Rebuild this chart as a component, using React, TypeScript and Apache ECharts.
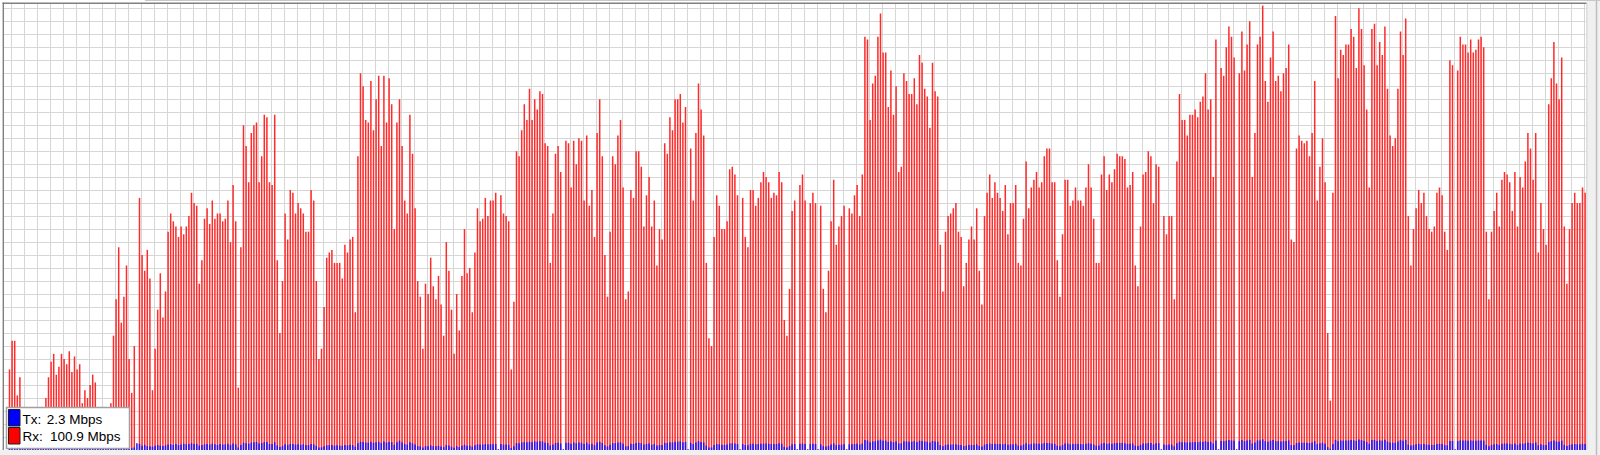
import React, { useEffect, useRef } from "react";
import * as echarts from "echarts";

// Rx traffic per sample (Mbps)
const rxMbps: number[] = [
  31, 42, 42, 21, 28, 9, 6, 12, 10, 4,
  8, 13, 7, 11, 20, 28, 34, 37, 29, 32,
  37, 35, 33, 38, 30, 36, 31, 33, 18, 23,
  20, 25, 29, 26, 14, 9, 12, 6, 15, 18,
  44, 58, 78, 49, 59, 71, 35, 22, 40, 0,
  97, 75, 69, 77, 66, 23, 39, 54, 68, 51,
  61, 84, 91, 88, 86, 82, 86, 83, 86, 90,
  99, 95, 94, 64, 73, 89, 93, 87, 96, 89,
  91, 91, 88, 89, 96, 80, 102, 88, 24, 78,
  125, 117, 103, 122, 125, 126, 103, 113, 129,
  128, 103, 102, 129, 73, 45, 65, 91, 81, 100,
  99, 91, 95, 93, 91, 84, 84, 100, 96, 65,
  35, 39, 55, 74, 76, 77, 72, 72, 72, 66,
  79, 76, 81, 82, 53, 113, 145, 140, 127, 126,
  142, 123, 135, 144, 117, 144, 126, 143, 133, 85,
  126, 135, 117, 96, 91, 129, 114, 93, 65, 59,
  39, 64, 60, 74, 63, 58, 67, 56, 44, 80,
  69, 54, 37, 60, 46, 67, 85, 68, 70, 53,
  76, 93, 88, 89, 97, 90, 96, 96, 99, 0,
  98, 91, 90, 88, 31, 57, 115, 113, 123, 133,
  127, 139,
  127, 135, 131, 138, 137, 118, 117, 72, 91, 114,
  117, 107, 0, 119, 118, 101, 119, 110, 120, 119,
  96, 121, 94, 100, 82, 122, 135, 113, 75, 59,
  84, 113, 110, 121, 127, 101, 58, 61, 100, 97,
  115, 115, 109, 86, 98, 105, 86, 96, 71, 85,
  81, 118, 114, 128, 123, 135, 135, 137, 126, 132,
  0, 116, 96, 122, 141, 131, 121, 72, 43, 40,
  82, 98, 94, 85, 85, 88, 108, 109, 106, 98,
  0, 97, 82, 78, 100, 100, 94, 97, 103, 107,
  105, 103, 97, 99, 98, 107, 103, 50, 44, 62,
  92, 96,
  0, 102, 106, 96, 0, 95, 99, 95, 0, 94,
  62, 53, 69, 88, 104, 79, 86, 90, 94, 0,
  93, 91, 98, 102, 90, 106, 159, 158, 127, 141,
  144, 159, 168, 153, 153, 132, 146, 129, 140, 107,
  109, 145, 142, 137, 137, 143, 133, 152, 149, 139,
  136, 124, 149, 138, 136, 79, 61, 84, 90, 91,
  93, 95, 84, 82, 63, 72, 81, 86, 81, 93,
  69, 56, 90, 99, 106, 97, 103, 99, 97, 92,
  102, 83, 95, 95, 102, 72, 71, 89, 111, 93,
  101, 104, 107, 101, 103, 113, 116, 116, 103, 103,
  73,
  59, 83, 104, 104, 94, 96, 101, 96, 96, 94,
  101, 110, 101, 89, 72, 72, 106, 113, 100, 106,
  103, 108, 114, 113, 113, 112, 101, 102, 107, 71,
  63, 86, 106, 107, 115, 113, 95, 110, 109, 0,
  90, 83, 90, 90, 58, 111, 137, 127, 127, 121,
  129, 129, 131, 128, 134, 136, 145, 131, 135, 105,
  158, 0, 147, 144, 155, 163, 159, 151, 0, 145,
  161, 146, 156, 165, 105, 122, 156, 159, 171, 142,
  134, 151, 161, 142, 144, 138, 145, 147, 156, 81,
  80, 116, 121, 119, 118, 119, 113, 122, 142, 96,
  109, 120,
  103, 45, 19, 99, 167, 143, 154, 152, 156, 156,
  162, 159, 147, 170, 162, 148, 131, 101, 162, 164,
  148, 157, 152, 163, 139, 121, 117, 120, 139, 161,
  152, 166, 90, 71, 85, 93, 100, 95, 99, 90,
  85, 84, 86, 99, 101, 98, 84, 77, 150, 148,
  0, 146, 159, 156, 156, 153, 158, 153, 154, 158,
  159, 155, 84, 58, 84, 92, 99, 86, 104, 107,
  106, 103, 92, 107, 86, 105, 101, 111, 122, 116,
  104, 122, 76, 95, 85, 79, 133, 143, 157, 141,
  135, 151, 86, 64, 85, 95, 99, 95, 95, 101,
  99,
];

// Tx traffic per sample (Mbps)
const txMbps: number[] = [
  0.8, 0.9, 0.9, 0.7, 0.8, 0.6, 0.5, 0.7, 0.6, 0.5,
  0.6, 0.7, 0.5, 0.6, 0.7, 0.8, 0.9, 1.0, 0.8, 0.9,
  1.0, 0.9, 0.9, 1.0, 0.8, 0.9, 0.8, 0.9, 0.6, 0.7,
  0.6, 0.7, 0.8, 0.7, 0.5, 0.5, 0.6, 0.5, 0.6, 0.7,
  1.0, 1.2, 1.4, 1.1, 1.3, 1.4, 0.9, 0.7, 1.0, 2.6,
  2.4, 1.6, 2.0, 1.5, 1.4, 1.3, 1.6, 1.9, 1.7, 1.5,
  1.8, 2.1, 2.2, 2.0, 2.3, 1.9, 2.1, 2.4, 2.2, 2.3,
  2.6, 2.3, 2.4, 1.7, 1.9, 2.2, 2.3, 2.1, 2.4, 2.2,
  2.0, 2.3, 2.1, 2.2, 2.4, 2.0, 2.5, 2.2, 1.0, 1.9,
  2.8, 2.6, 2.4, 2.9, 3.0, 3.1, 2.5, 2.7, 3.0,
  3.1, 2.3, 2.3, 3.0, 1.8, 1.2, 1.6, 2.2, 2.0, 2.3,
  2.3, 2.1, 2.2, 2.0, 2.2, 1.9, 1.9, 2.3, 2.2, 1.6,
  1.0, 1.1, 1.4, 1.8, 1.9, 1.9, 1.7, 1.8, 1.7, 1.6,
  1.9, 1.8, 2.0, 1.9, 1.3, 2.6, 3.2, 3.1, 2.9, 2.8,
  3.2, 2.8, 3.0, 3.2, 2.7, 3.3, 2.9, 3.1, 3.0, 2.0,
  3.0, 3.6, 2.9, 2.3, 2.1, 3.0, 2.6, 2.1, 1.5, 1.4,
  1.0, 1.5, 1.4, 1.8, 1.5, 1.4, 1.6, 1.3, 1.1, 1.9,
  1.7, 1.3, 0.9, 1.5, 1.1, 1.6, 2.0, 1.6, 1.7, 1.3,
  1.8, 2.2, 2.1, 2.1, 2.3, 2.1, 2.3, 2.2, 2.3, 0.3,
  2.3, 2.1, 2.1, 2.0, 0.8, 1.4, 2.7, 2.6, 2.9, 3.1,
  3.0, 3.2,
  3.0, 3.3, 3.2, 3.4, 3.3, 2.8, 2.7, 1.7, 2.1, 2.7,
  2.8, 2.5, 0.3, 2.8, 2.8, 2.4, 2.9, 2.6, 2.9, 2.8,
  2.3, 2.9, 2.2, 2.4, 1.9, 2.9, 3.2, 2.7, 1.8, 1.4,
  2.0, 2.7, 2.6, 2.9, 3.0, 2.4, 1.4, 1.5, 2.4, 2.3,
  2.7, 2.8, 2.6, 2.1, 2.3, 2.5, 2.0, 2.3, 1.7, 2.0,
  1.9, 2.8, 2.7, 3.0, 2.9, 3.2, 3.2, 3.3, 3.0, 3.1,
  0.3, 2.8, 2.3, 2.9, 3.4, 3.1, 2.9, 1.7, 1.0, 1.0,
  1.9, 2.3, 2.2, 2.0, 2.0, 2.1, 2.5, 2.6, 2.5, 2.3,
  0.3, 2.3, 1.9, 1.8, 2.4, 2.4, 2.2, 2.3, 2.4, 2.5,
  2.5, 2.4, 2.3, 2.3, 2.3, 2.6, 2.4, 1.2, 1.0, 1.5,
  2.2, 2.3,
  0.3, 2.4, 2.5, 2.3, 0.3, 2.3, 2.4, 2.3, 0.3, 2.2,
  1.5, 1.3, 1.6, 2.1, 2.5, 1.9, 2.0, 2.1, 2.2, 0.3,
  2.2, 2.2, 2.3, 2.4, 2.1, 2.5, 3.8, 3.7, 3.0, 3.3,
  3.4, 3.7, 4.0, 3.6, 3.6, 3.1, 3.4, 3.0, 3.3, 2.5,
  2.6, 3.4, 3.3, 3.2, 3.2, 3.4, 3.1, 3.6, 3.5, 3.3,
  3.2, 2.9, 3.5, 3.3, 3.2, 1.9, 1.4, 2.0, 2.1, 2.1,
  2.2, 2.2, 2.0, 1.9, 1.5, 1.7, 1.9, 2.0, 1.9, 2.2,
  1.6, 1.3, 2.1, 2.3, 2.5, 2.3, 2.4, 2.3, 2.3, 2.2,
  2.4, 2.0, 2.2, 2.2, 2.4, 1.7, 1.7, 2.1, 2.6, 2.2,
  2.4, 2.5, 2.5, 2.4, 2.4, 2.7, 2.7, 2.7, 2.4, 2.4,
  1.7,
  1.4, 2.0, 2.5, 2.5, 2.2, 2.3, 2.4, 2.3, 2.3, 2.2,
  2.4, 2.6, 2.4, 2.1, 1.7, 1.7, 2.5, 2.7, 2.4, 2.5,
  2.4, 2.6, 2.7, 2.7, 2.7, 2.6, 2.4, 2.4, 2.5, 1.7,
  1.5, 2.0, 2.5, 2.5, 2.7, 2.7, 2.2, 2.6, 2.6, 0.3,
  2.1, 2.0, 2.1, 2.1, 1.4, 2.6, 3.2, 3.0, 3.0, 2.9,
  3.0, 3.0, 3.1, 3.0, 3.2, 3.2, 3.4, 3.1, 3.2, 2.5,
  3.7, 0.3, 3.5, 3.4, 3.6, 3.8, 3.7, 3.6, 0.3, 3.4,
  3.8, 3.4, 3.7, 3.9, 2.5, 2.9, 3.7, 3.7, 4.1, 3.4,
  3.2, 3.6, 3.8, 3.4, 3.4, 3.3, 3.4, 3.5, 3.7, 1.9,
  1.9, 2.7, 2.9, 2.8, 2.8, 2.8, 2.7, 2.9, 3.4, 2.3,
  2.6, 2.8,
  2.4, 1.1, 0.5, 2.3, 3.9, 3.4, 3.7, 3.6, 3.7, 3.7,
  3.8, 3.7, 3.5, 4.0, 3.8, 3.5, 3.1, 2.4, 3.8, 3.9,
  3.5, 3.7, 3.6, 3.9, 3.3, 2.9, 2.8, 2.8, 3.3, 3.8,
  3.6, 3.9, 2.1, 1.7, 2.0, 2.2, 2.4, 2.2, 2.3, 2.1,
  2.0, 2.0, 2.0, 2.3, 2.4, 2.3, 2.0, 1.8, 3.5, 3.5,
  0.3, 3.4, 3.7, 3.7, 3.7, 3.6, 3.7, 3.6, 3.6, 3.7,
  3.7, 3.6, 2.0, 1.4, 2.0, 2.2, 2.3, 2.0, 2.4, 2.5,
  2.5, 2.4, 2.2, 2.5, 2.0, 2.5, 2.4, 2.6, 2.9, 2.7,
  2.5, 2.9, 1.8, 2.2, 2.0, 1.9, 3.1, 3.4, 3.7, 3.3,
  3.2, 3.6, 2.0, 1.5, 2.0, 2.2, 2.3, 2.2, 2.2, 2.4,
  2.3,
];

// Sample labels; two empty slots precede the first sample in the graph window
const leadSlots: string[] = ["", ""];
const sampleLabels: string[] = rxMbps.map((_, i) => `s${i + 1}`);

const legendRows = [
  { name: "Tx:", value: "2.3 Mbps", color: "#0000ff" },
  { name: "Rx:", value: "100.9 Mbps", color: "#ff0000" },
];

const Y_MAX = 172;
const Y_STEP = 5;

export default function App() {
  const ref = useRef<HTMLDivElement>(null);

  useEffect(() => {
    if (!ref.current) return;
    const chart = echarts.init(ref.current, undefined, { renderer: "svg" });
    const categories = [...leadSlots, ...sampleLabels];
    const pad = leadSlots.map(() => null);
    const font = '"Liberation Sans", Arial, sans-serif';
    const LZ = 100;

    const legendChildren: any[] = [
      { type: "rect", z: LZ, silent: true, shape: { x: 6.5, y: 407.5, width: 123, height: 41 }, style: { fill: "#ffffff", stroke: "#a0a0a0", lineWidth: 1.5 } },
    ];
    legendRows.forEach((row, i) => {
      const top = 409.5 + i * 18;
      const mid = 419.2 + i * 17.4;
      legendChildren.push(
        { type: "rect", z: LZ + 1, silent: true, shape: { x: 8.5, y: top, width: 11.5, height: 16.5 }, style: { fill: row.color, stroke: "#202020", lineWidth: 1 } },
        { type: "text", z: LZ + 1, silent: true, x: 22.5, y: mid, style: { text: row.name, fill: "#000000", font: `13.5px ${font}`, verticalAlign: "middle", align: "left" } },
        { type: "text", z: LZ + 1, silent: true, x: i === 0 ? 46.7 : 50, y: mid, style: { text: row.value, fill: "#000000", font: `13.5px ${font}`, verticalAlign: "middle", align: "left" } },
      );
    });

    chart.setOption({
      animation: false,
      backgroundColor: "#ffffff",
      grid: {
        left: 3,
        top: 3,
        width: 1583.4,
        height: 447,
        show: true,
        backgroundColor: "#ffffff",
        borderWidth: 0,
        containLabel: false,
      },
      xAxis: {
        type: "category",
        data: categories,
        boundaryGap: true,
        axisLine: { show: false },
        axisTick: { show: false },
        axisLabel: { show: false },
        splitLine: {
          show: true,
          interval: (index: number) => index % 5 === 3,
          lineStyle: { color: "#d6d6d6", width: 1 },
        },
      },
      yAxis: {
        type: "value",
        min: 0,
        max: Y_MAX,
        interval: Y_STEP,
        axisLine: { show: false },
        axisTick: { show: false },
        axisLabel: { show: false },
        splitLine: { show: true, lineStyle: { color: "#d6d6d6", width: 1 } },
      },
      series: [
        {
          name: "Rx",
          type: "bar",
          data: [...pad, ...rxMbps],
          barWidth: 1.5,
          barGap: "-100%",
          itemStyle: { color: "#ff2a2a" },
          silent: true,
        },
        {
          name: "Tx",
          type: "bar",
          data: [...pad, ...txMbps],
          barWidth: 1.5,
          barGap: "-100%",
          itemStyle: { color: "#1a1aff" },
          silent: true,
        },
      ],
      graphic: [
        // bottom and right frame panels
        { type: "rect", silent: true, z: 50, shape: { x: 0, y: 450, width: 1600, height: 5 }, style: { fill: "#f0f0f0" } },
        { type: "rect", silent: true, z: 50, shape: { x: 1586.4, y: 0, width: 13.6, height: 455 }, style: { fill: "#f0f0f0" } },
        { type: "line", silent: true, z: 51, shape: { x1: 1587, y1: 3, x2: 1587, y2: 450 }, style: { stroke: "#d8d8d8", lineWidth: 1 } },
        { type: "line", silent: true, z: 51, shape: { x1: 1596.5, y1: 0, x2: 1596.5, y2: 455 }, style: { stroke: "#bdbdbd", lineWidth: 1.5 } },
        // top strip line
        { type: "line", silent: true, z: 51, shape: { x1: 145, y1: 0.5, x2: 1600, y2: 0.5 }, style: { stroke: "#c8c8c8", lineWidth: 1 } },
        // plot border (top & left)
        { type: "line", silent: true, z: 52, shape: { x1: 2.5, y1: 3.3, x2: 1586.4, y2: 3.3 }, style: { stroke: "#808080", lineWidth: 1.4 } },
        { type: "line", silent: true, z: 52, shape: { x1: 3.3, y1: 2.5, x2: 3.3, y2: 450 }, style: { stroke: "#808080", lineWidth: 1.4 } },
        // legend box
        ...legendChildren,
      ],
    });

    return () => chart.dispose();
  }, []);

  return (
    <div
      ref={ref}
      style={{ position: "absolute", left: 0, top: 0, width: 1600, height: 455, background: "#ffffff" }}
    />
  );
}
